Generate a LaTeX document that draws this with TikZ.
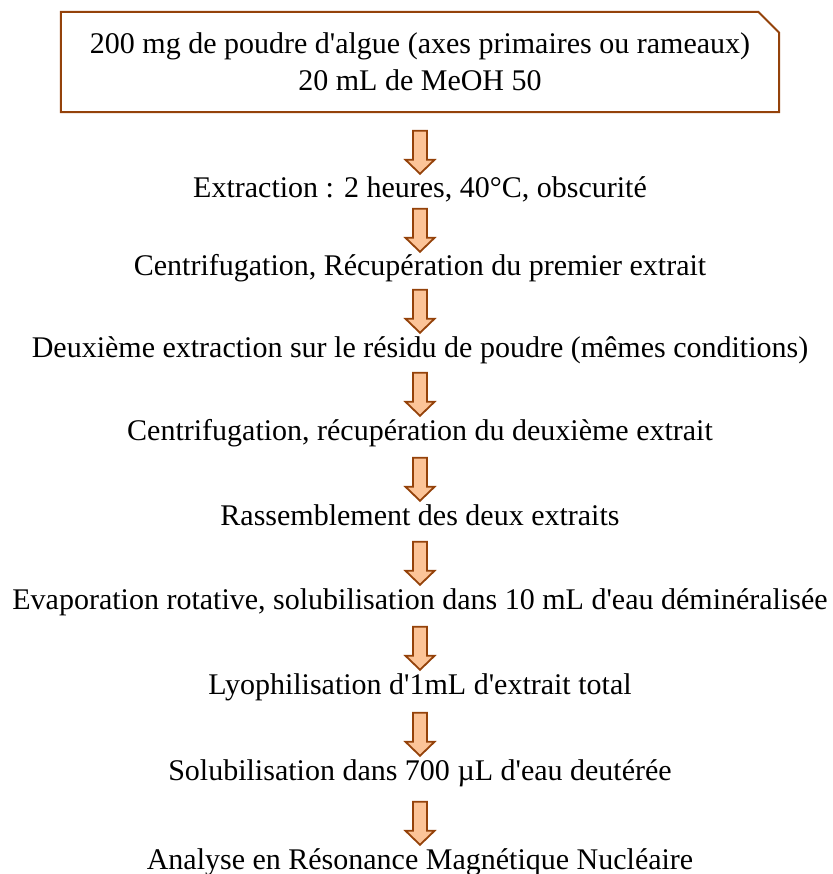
\documentclass[tikz,border=0pt]{standalone}
\usepackage{fontspec}
\newfontfamily\flowfont{Liberation Serif}
\usetikzlibrary{calc}
\definecolor{FlowBrown}{RGB}{148,66,10}
\definecolor{FlowPeach}{RGB}{252,196,152}

\newcommand{\flowarrowto}[2]{%
  \draw[flowarrow] ($(#1 |- #2.north)+(0,-4)$) -- ++(-14.5,-14) -- ++(7.5,0)
    -- ++(0,-29) -- ++(14,0) -- ++(0,29) -- ++(7.5,0) -- cycle;}

\begin{document}
\begin{tikzpicture}[x=1pt, y=-1pt,
    stepnode/.style={inner sep=0pt, anchor=base, text height=20pt, text depth=7pt,
                     font=\flowfont\fontsize{30}{37}\selectfont},
    startbox/.style={inner sep=0pt, minimum width=718pt, minimum height=100pt,
                     align=center, font=\flowfont\fontsize{30}{37}\selectfont},
    flowarrow/.style={draw=FlowBrown, fill=FlowPeach, line width=1.8pt, line join=miter}
  ]
  \useasboundingbox (0,0) rectangle (832,874);

  % Starting material
  \node[startbox] (start) at (420,62)
    {200 mg de poudre d'algue (axes primaires ou rameaux)\\20 mL de MeOH 50};
  \draw[FlowBrown, line width=2pt] (start.south west) -- (start.north west)
    -- ([xshift=-21pt]start.north east) -- ([yshift=-21pt]start.north east)
    -- (start.south east) -- cycle;

  % Steps
  \foreach \n/\y/\txt in {
      1/198/{Extraction : 2 heures, 40°C, obscurité},
      2/276/{Centrifugation, Récupération du premier extrait},
      3/357/{Deuxième extraction sur le résidu de poudre (mêmes conditions)},
      4/440/{Centrifugation, récupération du deuxième extrait},
      5/525/{Rassemblement des deux extraits},
      6/609/{Evaporation rotative, solubilisation dans 10 mL d'eau déminéralisée},
      7/694/{Lyophilisation d'1mL d'extrait total},
      8/780/{Solubilisation dans 700 µL d'eau deutérée},
      9/869/{Analyse en Résonance Magnétique Nucléaire}}{
    \node[stepnode] (s\n) at (420,\y) {\txt};
  }

  % Block arrows
  \foreach \a/\b in {start/s1, s1/s2, s2/s3, s3/s4, s4/s5, s5/s6, s6/s7, s7/s8, s8/s9}{
    \flowarrowto{\a}{\b}
  }
\end{tikzpicture}
\end{document}
